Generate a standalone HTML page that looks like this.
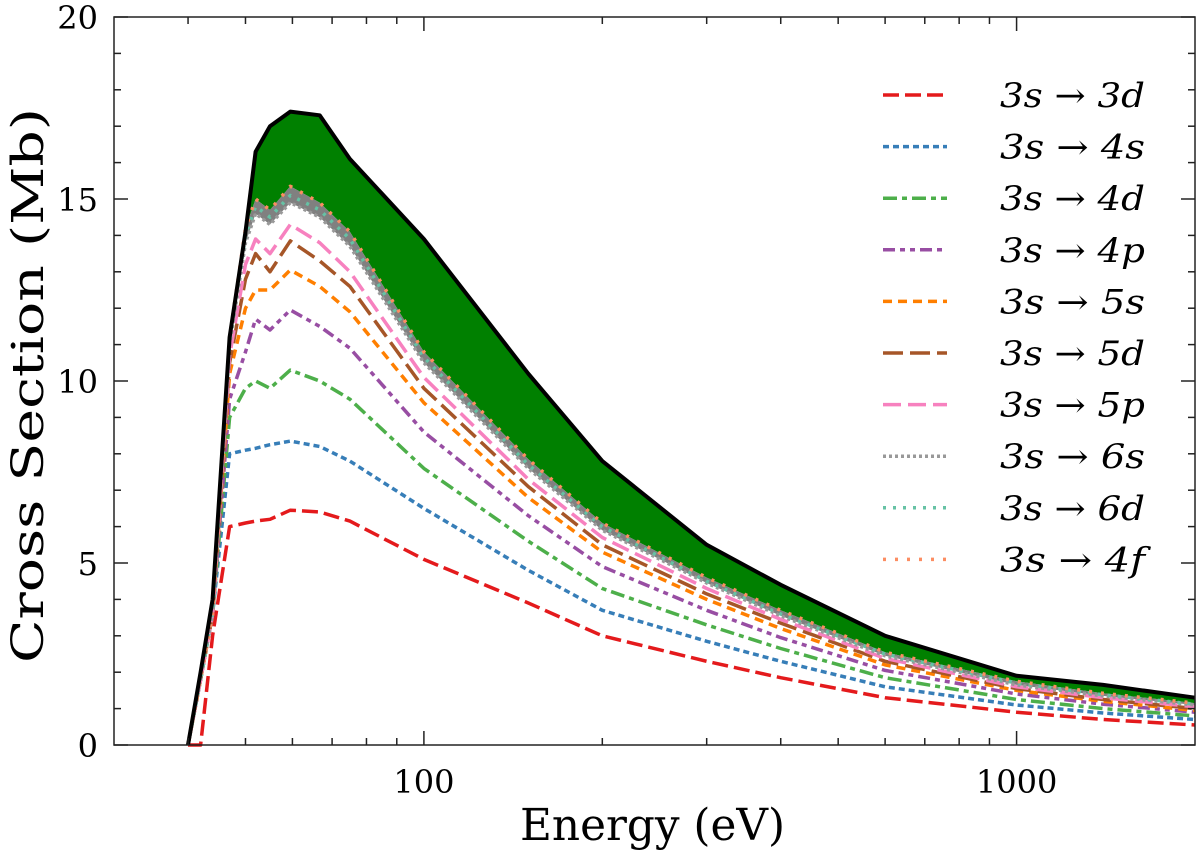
<!DOCTYPE html>
<html><head><meta charset="utf-8"><style>
html,body{margin:0;padding:0;background:#fff;}
svg{display:block;}
text{font-family:"DejaVu Serif","Liberation Serif",serif;fill:#000;}
</style></head><body>
<svg id="chart" width="1200" height="853" viewBox="0 0 1200 853">
<g id="fills"></g><g id="lines"></g><g id="axes"></g><g id="legend"></g>
</svg>
<script>
const energies=[40,42,44,47,50,52,55,59.5,66.7,75,100,150,200,300,400,600,1000,1400,2000];
const s3d=[0,0,3.0,6.0,6.1,6.15,6.2,6.45,6.4,6.15,5.1,3.9,3.0,2.3,1.85,1.3,0.9,0.7,0.55];
const s4s=[0,1.8,3.6,8.0,8.1,8.15,8.25,8.35,8.2,7.8,6.5,4.8,3.7,2.85,2.3,1.6,1.1,0.88,0.7];
const s4d=[0,1.8,3.6,9.0,9.8,10.0,9.8,10.3,10.0,9.5,7.6,5.6,4.3,3.3,2.65,1.85,1.25,1.0,0.8];
const s4p=[0,1.8,3.6,9.5,10.8,11.7,11.4,11.95,11.5,10.9,8.6,6.3,4.9,3.7,2.95,2.05,1.4,1.12,0.9];
const s5s=[0,1.8,3.6,10.2,12.0,12.5,12.5,13.05,12.6,11.9,9.4,6.8,5.3,4.0,3.2,2.2,1.5,1.2,0.95];
const s5d=[0,1.8,3.6,10.5,12.8,13.5,13.0,13.85,13.3,12.6,9.8,7.1,5.5,4.15,3.35,2.3,1.55,1.25,1.0];
const s5p=[0,1.8,3.6,10.7,13.2,13.9,13.5,14.3,13.8,13.0,10.1,7.3,5.7,4.3,3.45,2.38,1.6,1.3,1.05];
const s6s=[0,1.8,3.6,11.0,13.8,14.6,14.3,14.9,14.5,13.7,10.5,7.6,5.9,4.45,3.55,2.45,1.65,1.35,1.1];
const s6d=[0,1.8,3.6,11.1,14.0,14.8,14.5,15.1,14.7,13.9,10.65,7.7,6.0,4.5,3.6,2.5,1.7,1.38,1.12];
const s4f=[0,1.8,3.6,11.2,14.2,15.0,14.7,15.35,14.9,14.1,10.8,7.85,6.1,4.6,3.7,2.55,1.75,1.42,1.15];
const total=[0,2.0,4.0,11.2,14.1,16.3,17.0,17.4,17.3,16.1,13.9,10.2,7.8,5.5,4.4,3.0,1.9,1.65,1.3];
const seriesNames=["3d","4s","4d","4p","5s","5d","5p","6s","6d","4f"];
const seriesData=[s3d,s4s,s4d,s4p,s5s,s5d,s5p,s6s,s6d,s4f];
const yTicks=[0,5,10,15,20];
const xTicks=[100,1000];

const X0=114,X1=1195,Y0=745,Y1=17;
const xMin=30,xMax=2000,yMax=20;
function xs(e){return X0+(Math.log10(e)-Math.log10(xMin))/(Math.log10(xMax)-Math.log10(xMin))*(X1-X0);}
function ys(v){return Y0-v/yMax*(Y0-Y1);}
const NS="http://www.w3.org/2000/svg";
function mk(tag,attrs,parent){const el=document.createElementNS(NS,tag);for(const k in attrs)el.setAttribute(k,attrs[k]);parent.appendChild(el);return el;}
function pts(arr){return energies.map((e,i)=>xs(e).toFixed(1)+","+ys(arr[i]).toFixed(1));}

const fills=document.getElementById('fills'),lines=document.getElementById('lines'),axes=document.getElementById('axes'),legend=document.getElementById('legend');
let g=mk('polygon',{points:pts(total).concat(pts(s4f).reverse()).join(' '),fill:'#008000',stroke:'none'},fills);


let gr=mk('polygon',{points:pts(s4f).concat(pts(s6s).reverse()).join(' '),fill:'#808080',stroke:'none'},fills);



const colors=['#e41a1c','#377eb8','#4daf4a','#984ea3','#ff7f00','#a65628','#f781bf','#999999','#66c2a5','#fc8d62'];
const dashes=['16,6','6,4','14,5,5,5','12,5,5,5,5,5','9,6','20,7','18,7','3,3','3,7','3,9'];
seriesData.forEach((arr,i)=>{
  const p=mk('polyline',{points:pts(arr).join(' '),fill:'none',stroke:colors[i],'stroke-width':3.5,'stroke-dasharray':dashes[i],'stroke-linejoin':'round'},lines);
  
  
});
const tl=mk('polyline',{points:pts(total).join(' '),fill:'none',stroke:'#000','stroke-width':4,'stroke-linejoin':'round'},lines);



const fr=mk('rect',{x:X0,y:Y1,width:X1-X0,height:Y0-Y1,fill:'none',stroke:'#222','stroke-width':1.5},axes);


for(let v=0;v<=20;v++){
  const y=ys(v),L=(v%5===0)?14:7;
  mk('line',{x1:X0,y1:y,x2:X0+L,y2:y,stroke:'#222','stroke-width':1.5},axes);
  mk('line',{x1:X1,y1:y,x2:X1-L,y2:y,stroke:'#222','stroke-width':1.5},axes);
}
yTicks.forEach(v=>{const t=mk('text',{x:X0-16,y:ys(v)+12,'text-anchor':'end','font-size':32},axes);t.textContent=v;
  
  });
[40,50,60,70,80,90,200,300,400,500,600,700,800,900,100,1000].forEach(e=>{
  if(e<=xMin||e>=xMax)return;
  const x=xs(e),L=(e===100||e===1000)?14:7;
  mk('line',{x1:x,y1:Y0,x2:x,y2:Y0-L,stroke:'#222','stroke-width':1.5},axes);
  mk('line',{x1:x,y1:Y1,x2:x,y2:Y1+L,stroke:'#222','stroke-width':1.5},axes);
});
xTicks.forEach(e=>{const t=mk('text',{x:xs(e),y:Y0+48,'text-anchor':'middle','font-size':32},axes);t.textContent=e;
  
  });
const xt=mk('text',{x:520,y:840,'font-size':44,textLength:265,lengthAdjust:'spacingAndGlyphs'},axes);xt.textContent='Energy (eV)';


const yt=mk('text',{x:0,y:0,'font-size':44,textLength:555,lengthAdjust:'spacingAndGlyphs',transform:'translate(43,663) rotate(-90)'},axes);yt.textContent='Cross Section (Mb)';



seriesNames.forEach((n,i)=>{
  const y=95+i*51.6;
  const le=mk('g',{},legend);
  
  
  mk('line',{x1:883,y1:y,x2:947,y2:y,stroke:colors[i],'stroke-width':3.5,'stroke-dasharray':dashes[i]},le);
  const t=mk('text',{x:1000,y:y+12,'font-size':34,'font-style':'italic',textLength:145,lengthAdjust:'spacingAndGlyphs'},le);
  t.textContent='3s \u2192 '+n;
});
</script>
</body></html>
